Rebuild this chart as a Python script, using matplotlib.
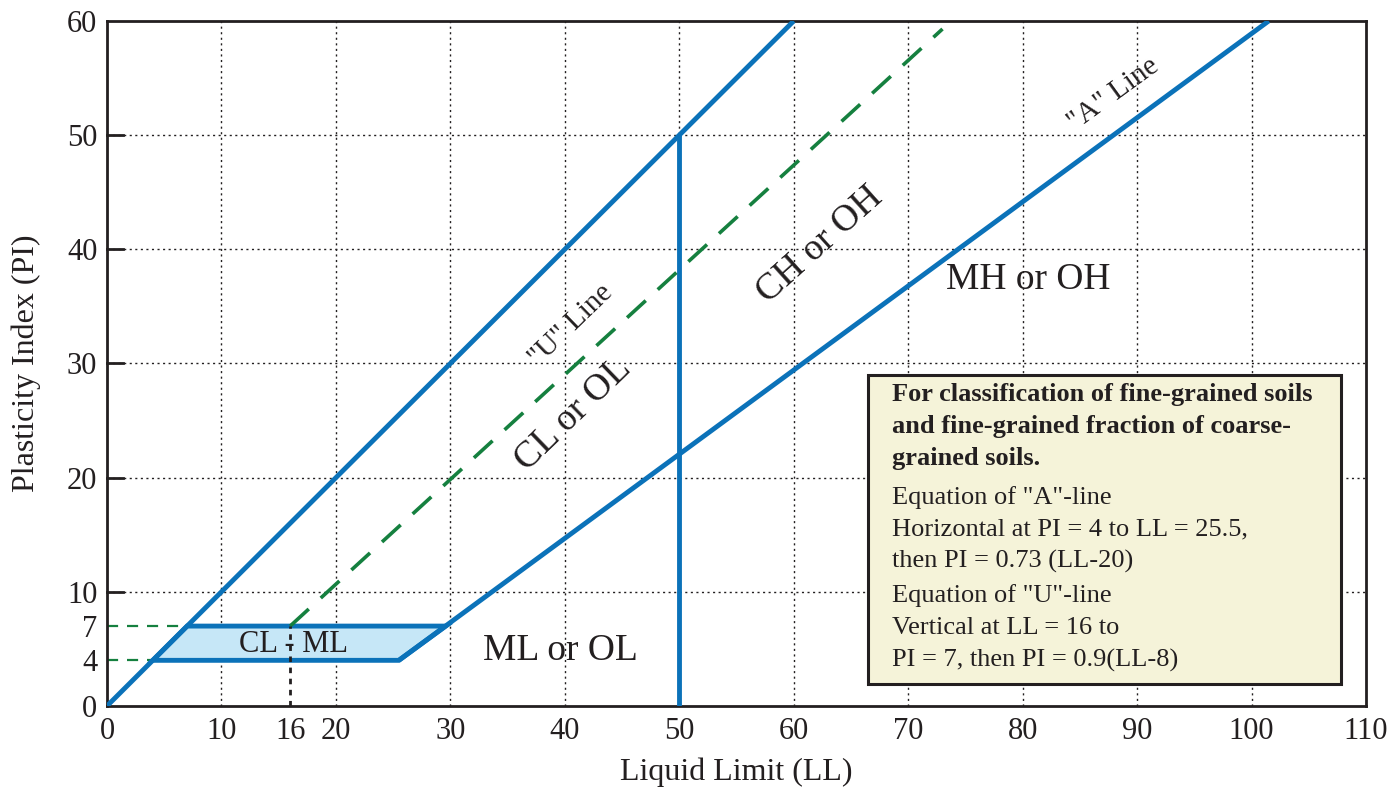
import matplotlib
matplotlib.use("Agg")
import matplotlib.pyplot as plt
from matplotlib.patches import Polygon, Rectangle

plt.rcParams['font.family'] = ['Liberation Serif', 'DejaVu Serif']

BLUE = '#0b72b9'
GREEN = '#15803f'
FILL = '#c6e7f7'
BOXFACE = '#f5f3d9'
INK = '#231f20'

# --- chart data ---
ll_ticks = [0, 10, 16, 20, 30, 40, 50, 60, 70, 80, 90, 100, 110]
pi_ticks = [0, 4, 7, 10, 20, 30, 40, 50, 60]

# PI = LL boundary
diag_ll = [0, 60]
diag_pi = [0, 60]

# "A" line (from LL = 25.5, PI = 4)
a_ll = [25.5, 101.5]
a_pi = [4, 60]

# "U" line (from LL = 16, PI = 7)
u_ll = [16, 73]
u_pi = [7, 59.3]

# LL = 50 divider
div_ll = [50, 50]
div_pi = [0, 50]

# CL-ML zone
zone_ll = [4, 25.5, 29.6, 7]
zone_pi = [4, 4, 7, 7]

# guides
guide_pi = [4, 7]
guide_end = 7.4
mark_ll = 16

zone_labels = [
    ("MH or OH", 80.5, 37.3, 0, 27),
    ("ML or OL", 39.6, 4.8, 0, 27),
    ("CL or OL", 40.7, 25.5, 44, 27),
    ("CH or OH", 62.3, 40.4, 42, 27),
    ('"U" Line', 40.5, 33.3, 44, 21),
    ('"A" Line', 87.9, 53.6, 36, 21),
]

box_bold = ["For classification of fine-grained soils",
            "and fine-grained fraction of coarse-",
            "grained soils."]
box_a = ['Equation of "A"-line',
         "Horizontal at PI = 4 to LL = 25.5,",
         "then PI = 0.73 (LL-20)"]
box_u = ['Equation of "U"-line',
         "Vertical at LL = 16 to",
         "PI = 7, then PI = 0.9(LL-8)"]

fig = plt.figure(figsize=(13.95, 7.89), dpi=100)
ax = fig.add_axes([0.0767, 0.1052, 0.9025, 0.8682])
ax.set_xlim(0, 110)
ax.set_ylim(0, 60)

# grid
for x in range(10, 110, 10):
    ax.axvline(x, color=INK, lw=1.0, ls=(0, (1.5, 2.5)), zorder=1)
for y in range(10, 60, 10):
    ax.axhline(y, color=INK, lw=1.0, ls=(0, (1.5, 2.5)), zorder=1)

# CL-ML zone
ax.add_patch(Polygon(list(zip(zone_ll, zone_pi)), closed=True,
                     facecolor=FILL, edgecolor=BLUE, lw=3.5, zorder=3))

# guides
for p in guide_pi:
    ax.plot([0, guide_end], [p, p], color=GREEN, lw=1.6, ls=(0, (5, 4)), zorder=2)
ax.plot([mark_ll, mark_ll], [0, 7], color=INK, lw=2.0, ls=(0, (2, 2)), zorder=4)

ax.plot(diag_ll, diag_pi, color=BLUE, lw=3.5, zorder=3, solid_capstyle='butt')
ax.plot(a_ll, a_pi, color=BLUE, lw=3.5, zorder=3, solid_capstyle='butt')
ax.plot(div_ll, div_pi, color=BLUE, lw=3.5, zorder=3, solid_capstyle='butt')
ax.plot(u_ll, u_pi, color=GREEN, lw=2.6, ls=(0, (7, 4.5)), zorder=3)

ax.text(16.3, 5.4, "CL - ML", fontsize=22, ha='center', va='center', color=INK, zorder=5)
for txt, x, y, rot, fs in zone_labels:
    ax.text(x, y, txt, fontsize=fs, ha='center', va='center', rotation=rot,
            rotation_mode='anchor', color=INK, zorder=5)

# info box
ax.add_patch(Rectangle((66.5, 1.9), 41.3, 27.1, facecolor=BOXFACE,
                       edgecolor=INK, lw=2.2, zorder=6))
tx = 68.6
y = 27.3
for line in box_bold:
    ax.text(tx, y, line, fontsize=19, fontweight='bold', va='center', color=INK, zorder=7)
    y -= 2.8
y -= 0.6
for line in box_a:
    ax.text(tx, y, line, fontsize=19, va='center', color=INK, zorder=7)
    y -= 2.8
y -= 0.2
for line in box_u:
    ax.text(tx, y, line, fontsize=19, va='center', color=INK, zorder=7)
    y -= 2.85

# axes styling
for s in ax.spines.values():
    s.set_color(INK)
    s.set_linewidth(2.0)
ax.set_xticks(ll_ticks)
ax.set_yticks(pi_ticks)
ax.tick_params(axis='x', length=0, labelsize=22, pad=8, colors=INK)
ax.tick_params(axis='y', length=0, labelsize=22, pad=7, colors=INK)
for y in range(10, 60, 10):
    ax.plot([0, 1.4], [y, y], color=INK, lw=2.0, zorder=4, clip_on=False)
ax.set_xlabel("Liquid Limit (LL)", fontsize=23, color=INK, labelpad=8)
ax.set_ylabel("Plasticity Index (PI)", fontsize=23, color=INK, labelpad=19)

fig.savefig("out.png", dpi=100)
